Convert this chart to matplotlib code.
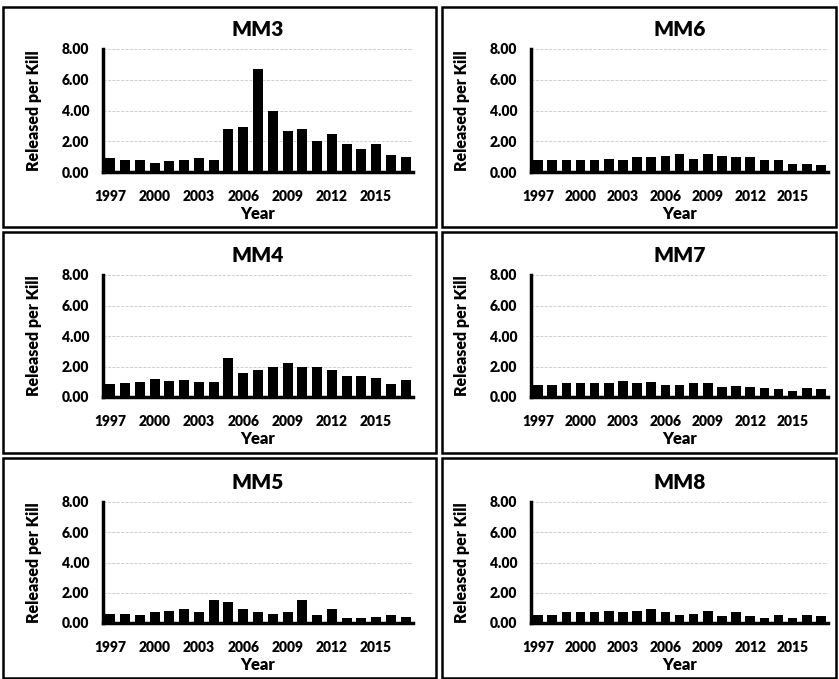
import matplotlib
matplotlib.use("Agg")
import matplotlib.pyplot as plt
from matplotlib.patches import Rectangle

plt.rcParams['font.family'] = ['Lato', 'DejaVu Sans']
plt.rcParams['font.weight'] = 'bold'

years = list(range(1997, 2018))
tick_years = [1997, 2000, 2003, 2006, 2009, 2012, 2015]
y_ticks = [0, 2, 4, 6, 8]

mm3 = [0.9, 0.8, 0.75, 0.6, 0.7, 0.8, 0.9, 0.75, 2.8, 2.9, 6.7, 4.0, 2.65, 2.8, 2.0, 2.45, 1.85, 1.5, 1.85, 1.1, 0.95]
mm4 = [0.85, 0.9, 1.0, 1.2, 1.05, 1.1, 1.0, 1.0, 2.55, 1.6, 1.75, 1.95, 2.25, 2.0, 2.0, 1.75, 1.35, 1.35, 1.25, 0.85, 1.1]
mm5 = [0.6, 0.6, 0.55, 0.75, 0.8, 0.9, 0.7, 1.55, 1.4, 0.9, 0.7, 0.6, 0.75, 1.5, 0.55, 0.95, 0.35, 0.35, 0.4, 0.5, 0.4]
mm6 = [0.8, 0.8, 0.8, 0.8, 0.8, 0.85, 0.8, 1.0, 1.0, 1.05, 1.2, 0.85, 1.2, 1.05, 0.95, 1.0, 0.8, 0.8, 0.55, 0.55, 0.45]
mm7 = [0.8, 0.8, 0.95, 0.95, 0.95, 0.9, 1.05, 0.9, 1.0, 0.8, 0.8, 0.95, 0.9, 0.65, 0.7, 0.65, 0.6, 0.55, 0.4, 0.6, 0.5]
mm8 = [0.5, 0.5, 0.7, 0.75, 0.75, 0.8, 0.75, 0.8, 0.9, 0.75, 0.55, 0.6, 0.8, 0.45, 0.7, 0.45, 0.3, 0.5, 0.3, 0.55, 0.45]

W, H = 839, 679
fig = plt.figure(figsize=(W/100, H/100), dpi=100)

# panel layout in pixels: (name, data, axes box left, right, top, bottom, frame box)
panels = [
    ("MM3", mm3, (103, 413, 49, 172), (3, 436, 7, 227)),
    ("MM4", mm4, (103, 413, 275, 397), (3, 436, 232, 453)),
    ("MM5", mm5, (103, 413, 502, 623), (3, 436, 458, 678)),
    ("MM6", mm6, (531, 828, 49, 172), (442, 836, 7, 227)),
    ("MM7", mm7, (531, 828, 275, 397), (442, 836, 232, 453)),
    ("MM8", mm8, (531, 828, 502, 623), (442, 836, 458, 678)),
]

for name, vals, (l, r, t, b), (fl, fr, ft, fb) in panels:
    fig.patches.append(Rectangle((fl/W, 1-fb/H), (fr-fl)/W, (fb-ft)/H,
                                 transform=fig.transFigure, fill=False,
                                 edgecolor='black', linewidth=1.8))
    ax = fig.add_axes([l/W, 1-b/H, (r-l)/W, (b-t)/H])
    x = list(range(len(years)))
    ax.bar(x, vals, width=0.68, color='black', zorder=3)
    ax.set_xlim(-0.5, len(years)-0.5)
    ax.set_ylim(0, 8)
    ax.set_yticks(y_ticks)
    ax.set_yticklabels(['%.2f' % v for v in y_ticks], fontsize=10, fontweight='heavy')
    ax.set_xticks([years.index(yv) for yv in tick_years])
    ax.set_xticklabels([str(yv) for yv in tick_years], fontsize=10, fontweight='heavy')
    ax.tick_params(axis='x', length=0, pad=13)
    ax.tick_params(axis='y', length=0, pad=10)
    ax.yaxis.grid(True, color='#c8c8c8', linestyle='--', linewidth=0.6, zorder=0)
    for s in ['top', 'right']:
        ax.spines[s].set_visible(False)
    ax.spines['left'].set_linewidth(2.5)
    ax.spines['bottom'].set_linewidth(2.5)
    ax.set_title(name, fontsize=15, fontweight='heavy', pad=9)
    ax.set_ylabel('Released per Kill', fontsize=11.5, fontweight='heavy', labelpad=14)
    ax.set_xlabel('Year', fontsize=12, fontweight='heavy', labelpad=2)

fig.savefig('out.png', dpi=100)
